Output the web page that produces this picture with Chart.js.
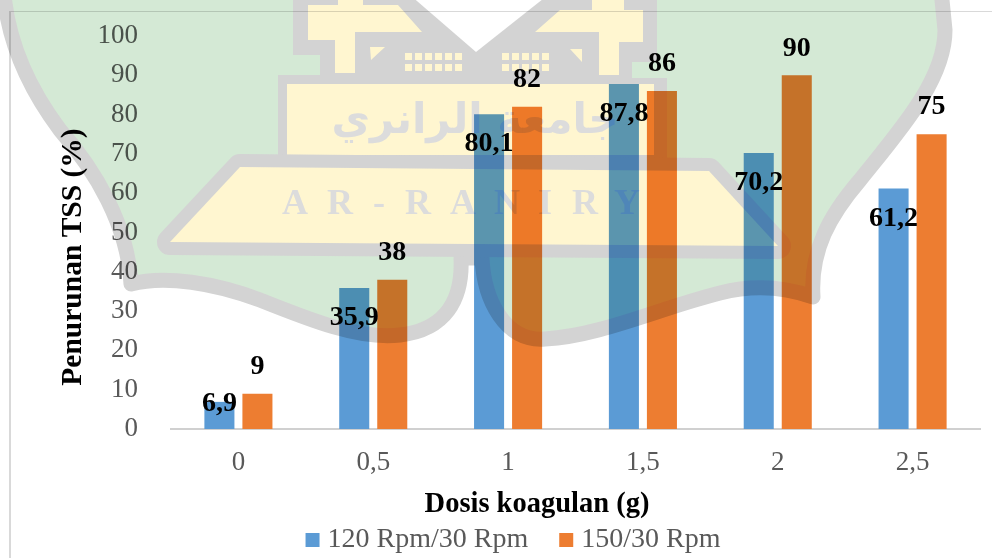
<!DOCTYPE html>
<html>
<head>
<meta charset="utf-8">
<script src="https://cdn.jsdelivr.net/npm/chart.js@4"></script>
<style>
html,body{margin:0;padding:0;background:#fff;overflow:hidden}
canvas{display:block}
</style>
</head>
<body>
<canvas id="ov" width="992" height="558"></canvas>
<script>
let dosis = ["0","0,5","1","1,5","2","2,5"];
let rpm120 = [6.9,35.9,80.1,87.8,70.2,61.2];
let rpm150 = [9,38,82,86,90,75];
let yTicks = [0,10,20,30,40,50,60,70,80,90,100];
let xTitle = "Dosis koagulan (g)";
let yTitle = "Penurunan TSS (%)";

const serif = "'Liberation Serif','Times New Roman',serif";

function poly(c, pts, fill){
    c.beginPath();
    pts.forEach((p,i)=> i ? c.lineTo(p[0],p[1]) : c.moveTo(p[0],p[1]));
    c.closePath();
    c.fillStyle = fill;
    c.fill();
}

// logo behind the plot, drawn on its own layer and multiplied on top of the chart
function makeLogo(){
    const lay = document.createElement('canvas');
    lay.width = 992; lay.height = 558;
    const c = lay.getContext('2d');
    const gray = '#d3d3d3', green = '#d4e9d5', yellow = '#fff6d0';

    // leaf outline
    c.beginPath();
    c.moveTo(3,-20);
    c.bezierCurveTo(5,40,30,90,60,130);
    c.bezierCurveTo(95,170,128,225,131,284);
    c.bezierCurveTo(165,275,215,283,260,300);
    c.bezierCurveTo(310,320,360,340,400,335);
    c.bezierCurveTo(445,330,463,300,461,258);
    c.lineTo(482,258);
    c.bezierCurveTo(484,300,505,342,545,339);
    c.bezierCurveTo(600,336,660,308,720,293);
    c.bezierCurveTo(755,284,785,287,813,297);
    c.bezierCurveTo(810,250,830,215,860,180);
    c.bezierCurveTo(900,130,945,80,945,30);
    c.lineTo(940,-20);
    c.closePath();
    c.fillStyle = green;
    c.fill();
    c.lineWidth = 15;
    c.lineJoin = 'round';
    c.strokeStyle = gray;
    c.stroke();

    // gate block
    poly(c, [[293,-5],[657,-5],[657,62],[632,62],[632,78],[667,78],[667,165],[278,165],[278,75],[320,75],[320,55],[293,55]], gray);
    poly(c, [[410,-5],[548,-5],[476,52]], '#ffffff');

    poly(c, [[308,5],[338,5],[338,-2],[363,-2],[363,5],[398,5],[422,32],[355,32],[355,73],[335,73],[335,40],[308,40]], yellow);
    poly(c, [[643,10],[624,10],[624,-2],[592,-2],[592,10],[560,10],[535,32],[599,32],[599,75],[619,75],[619,42],[643,42]], yellow);
    poly(c, [[370,47],[385,47],[371,60]], yellow);
    poly(c, [[570,49],[582,49],[582,62]], yellow);
    c.fillStyle = yellow;
    [53,64].forEach(y=>{
        for(let x=405;x<=455;x+=10) c.fillRect(x,y,7,7);
        for(let x=502;x<=542;x+=10) c.fillRect(x,y,7,7);
    });

    // upper panel
    c.fillStyle = yellow;
    c.fillRect(287,84,367,71);

    // lower trapezoid
    const trap = [[240,167],[709,171],[778,246],[170,242]];
    c.beginPath();
    trap.forEach((p,i)=> i ? c.lineTo(p[0],p[1]) : c.moveTo(p[0],p[1]));
    c.closePath();
    c.lineWidth = 26;
    c.strokeStyle = gray;
    c.stroke();
    poly(c, trap, yellow);

    // lettering
    c.fillStyle = '#dcdcdc';
    c.textAlign = 'center';
    c.textBaseline = 'middle';
    c.font = "bold 36px " + serif;
    "AR-RANIRY".split('').forEach((ch,i)=>{
        c.fillText(ch, [295,340,379,418,463,507,545,585,627][i], 205);
    });
    c.direction = 'rtl';
    c.font = "bold 42px 'DejaVu Sans'";
    c.fillText("جامعة الرانري", 475, 122);
    return lay;
}

const logo = makeLogo();

const pagePlugin = {
    id: 'pagePlugin',
    afterLayout(chart){
        const lg = chart.legend;
        lg.left += 26;
        lg.right += 26;
        lg.top += 10;
        lg.bottom += 10;
    },
    beforeDraw(chart){
        const c = chart.ctx;
        c.save();
        c.fillStyle = '#fff';
        c.fillRect(0,0,992,558);
        c.fillStyle = '#d9d9d9';
        c.fillRect(9,11,983,1);
        c.fillRect(9,11,2,547);
        c.restore();
    },
    afterDatasetsDraw(chart){
        const c = chart.ctx;
        c.save();
        c.fillStyle = '#000';
        c.textAlign = 'center';
        c.textBaseline = 'middle';
        c.font = "bold 28px " + serif;
        chart.getDatasetMeta(0).data.forEach((bar,i)=>{
            const dy = rpm120[i] < 10 ? 2 : 30;
            c.fillText(String(rpm120[i]).replace('.',','), bar.x, bar.y + dy);
        });
        chart.getDatasetMeta(1).data.forEach((bar,i)=>{
            c.fillText(String(rpm150[i]), bar.x, bar.y - 27);
        });
        c.font = "bold 28.5px " + serif;
        c.fillText(xTitle, 537, 505);
        c.font = "bold 29.5px " + serif;
        c.translate(73,257);
        c.rotate(-Math.PI/2);
        c.fillText(yTitle, 0, 0);
        c.restore();
    },
    afterDraw(chart){
        const c = chart.ctx;
        c.save();
        c.globalCompositeOperation = 'multiply';
        c.drawImage(logo,0,0);
        c.restore();
    }
};

let ctx = document.getElementById('ov').getContext('2d');
let myChart = new Chart(ctx, {
    type: 'bar',
    data: {
        labels: dosis,
        datasets: [{
            label: '120 Rpm/30 Rpm',
            data: rpm120,
            backgroundColor: '#5b9bd5',
            categoryPercentage: 0.564,
            barPercentage: 0.79,
        },
        {
            label: '150/30 Rpm',
            data: rpm150,
            backgroundColor: '#ed7d31',
            categoryPercentage: 0.564,
            barPercentage: 0.79,
        }]
    },
    options: {
        responsive: false,
        animation: false,
        layout: { padding: { top: 36, right: 12, bottom: 4 } },
        scales: {
            y: {
                min: 0,
                max: 100,
                afterBuildTicks(s){ s.ticks = yTicks.map(v=>({value:v})); },
                afterFit(s){ s.width = 171; s.paddingTop = 0; },
                grid: { display: false, drawBorder: false },
                border: { display: false },
                ticks: {
                    color: '#595959',
                    padding: 25,
                    font: { family: serif, size: 27 },
                }
            },
            x: {
                afterFit(s){ s.height = 50; },
                grid: { display: false },
                border: { color: '#d0d0d0', width: 2 },
                ticks: {
                    color: '#595959',
                    padding: 10,
                    font: { family: serif, size: 27 },
                }
            }
        },
        plugins: {
            tooltip: { enabled: false },
            legend: {
                position: 'bottom',
                labels: {
                    usePointStyle: true,
                    pointStyle: 'rect',
                    boxWidth: 2,
                    boxHeight: 14,
                    padding: 37,
                    color: '#595959',
                    font: { family: serif, size: 28 },
                }
            }
        }
    },
    plugins: [pagePlugin]
});
</script>
</body>
</html>
